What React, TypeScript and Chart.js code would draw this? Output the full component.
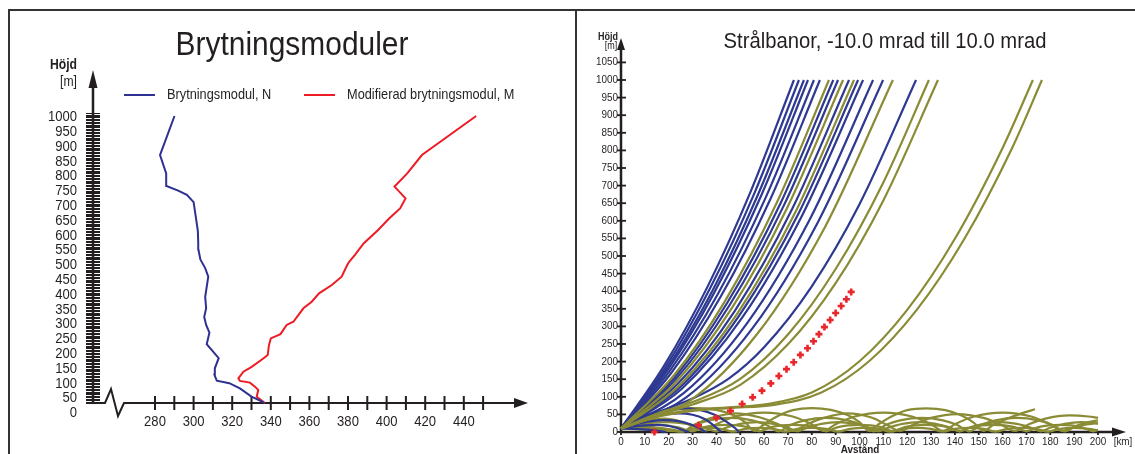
import React, { useEffect, useRef } from "react";
import { Chart, registerables } from "chart.js";
Chart.register(...registerables);

// ---------- Left chart: refractivity profiles ----------
const nHeights = [0, 5, 22, 51, 69, 78, 98, 121, 156, 180, 205, 245, 272, 300, 330, 370, 405, 440, 470, 500, 535, 560, 600, 650, 700, 725, 740, 756, 800, 864, 1000];
const nValues = [336.5, 335.5, 330, 324, 318.5, 312, 310.8, 311, 313, 310, 306.8, 308.2, 306.5, 305.5, 306.5, 306, 306.8, 307.6, 306, 303.5, 302.5, 302.4, 302.2, 301.1, 300, 296.5, 292, 286, 285.8, 282.6, 290.1];
const mHeights = [0, 22, 45, 57, 71, 77, 86, 109, 126, 155, 167, 200, 225, 240, 272, 283, 330, 353, 382, 411, 440, 481, 492, 516, 556, 603, 643, 678, 713, 754, 800, 864, 1000];
const mValues = [337, 332.7, 333.5, 331.8, 329.2, 324, 323.2, 325.8, 330.1, 336.1, 338.4, 339, 340, 345, 348.2, 351.7, 356.9, 361.2, 365, 371.6, 376.7, 379.6, 380.6, 383.6, 388.1, 395.6, 401.3, 407, 409.8, 404.1, 410.7, 418.3, 446.4];
const leftYTickLabels = [0, 50, 100, 150, 200, 250, 300, 350, 400, 450, 500, 550, 600, 650, 700, 750, 800, 850, 900, 950, 1000];
const leftXTickLabels = [280, 300, 320, 340, 360, 380, 400, 420, 440];
const leftXTickMarks = [280, 290, 300, 310, 320, 330, 340, 350, 360, 370, 380, 390, 400, 410, 420, 430, 440, 450];
const legendLabels = ["Brytningsmodul, N", "Modifierad brytningsmodul, M"];

// ---------- Right chart: ray paths (distance km, height m) ----------
const upperBlueRays = [
  [[0, 10], [18.1, 188.5], [36.3, 413], [54.4, 683.5], [72.5, 1000]],
  [[0, 10], [18.7, 184.5], [37.3, 407.6], [56, 679.5], [74.6, 1000]],
  [[0, 10], [19.2, 180.3], [38.4, 402], [57.5, 675.3], [76.7, 1000]],
  [[0, 10], [19.6, 176.8], [39.2, 397.4], [58.8, 671.8], [78.4, 1000]],
  [[0, 10], [20.2, 171.6], [40.5, 390.5], [60.7, 666.6], [80.9, 1000]],
  [[0, 10], [20.9, 166.2], [41.7, 383.3], [62.6, 661.2], [83.4, 1000]],
  [[0, 10], [22.3, 153.5], [44.5, 366.4], [66.8, 648.5], [89, 1000]],
  [[0, 10], [22.8, 148.8], [45.5, 360.1], [68.3, 643.8], [91, 1000]],
  [[0, 10], [23.9, 137.5], [47.8, 345.1], [71.7, 632.5], [95.6, 1000]],
  [[0, 10], [24.9, 127.8], [49.7, 332.1], [74.6, 622.8], [99.4, 1000]],
  [[0, 10], [25.4, 122.3], [50.8, 324.7], [76.1, 617.3], [101.5, 1000]],
  [[0, 10], [26.4, 110.9], [52.9, 309.5], [79.3, 605.9], [105.7, 1000]],
  [[0, 10], [27.5, 99], [55, 293.6], [82.4, 594], [109.9, 1000]],
  [[0, 10], [15, 55], [30, 95], [45, 151], [60, 241], [80, 414], [100, 647], [123.7, 1000]],
];
const upperOliveRays = [
  [[0, 10], [21.8, 157.7], [43.6, 371.9], [65.4, 652.7], [87.2, 1000]],
  [[0, 10], [23.3, 143.7], [46.6, 353.3], [69.8, 638.7], [93.1, 1000]],
  [[0, 10], [24.4, 132.2], [48.9, 338], [73.3, 627.2], [97.7, 1000]],
  [[0, 10], [28.5, 86.9], [57, 277.6], [85.5, 581.9], [114, 1000]],
  [[0, 10], [15, 52], [30, 85], [50, 151], [70, 277], [90, 463], [110, 709], [129.1, 1000]],
  [[0, 10], [15, 48], [30, 78], [50, 134], [70, 249], [90, 423], [110, 658], [132.9, 1000]],
  [[0, 10], [15, 45], [30, 63], [45, 70], [62, 80], [80, 112], [100, 201], [120, 347], [140, 549], [160, 807], [172.7, 1000]],
  [[0, 10], [15, 43], [30, 60], [45, 68], [65, 78], [84, 112], [104, 201], [124, 347], [144, 549], [164, 807], [176.5, 1000]],
];
const groundBlueRays = [
  [[0, 10], [6, 32], [12, 50], [19, 62], [26, 67], [33, 63], [39, 50], [44, 30], [48, 10], [49.5, 0]],
  [[0, 10], [6, 28], [12, 42], [18, 50], [24, 53], [30, 49], [35, 37], [39, 18], [42, 0]],
  [[0, 10], [6, 22], [12, 30], [18, 34], [24, 31], [29, 22], [33, 10], [35.5, 0]],
  [[0, 10], [5, 16], [10, 19], [15, 20], [20, 17], [24, 10], [27, 3], [28.5, 0]],
  [[0, 10], [6, 9], [12, 6], [17, 2], [19, 0]],
];
const trappedOliveRays = [
  [[0, 10], [8, 35], [16, 53], [24, 64], [32, 68], [40, 63], [47, 48], [52, 28], [56, 3], [60, 22], [66, 46], [72, 62], [80, 68], [88, 63], [95, 48], [100, 28], [104, 3], [108, 22], [114, 46], [120, 62], [128, 67], [136, 62], [143, 46], [148, 26], [152, 3], [156, 20], [162, 38], [168, 53], [173.6, 64.5]],
  [[0, 10], [10, 7], [20, 3], [25.5, 2], [31, 22], [38, 40], [48, 53], [58, 42], [66, 22], [72, 3], [78, 22], [85, 40], [95, 53], [105, 41], [111, 22], [117, 3], [123, 22], [130, 40], [141, 51], [152, 40], [159, 22], [165, 3], [171, 22], [178, 38], [188, 47], [196, 44], [200, 40]],
  [[0, 10], [8, 15], [16, 12], [22, 6], [26, 2], [31, 20], [37, 33], [46, 40], [55, 33], [61, 20], [66, 2], [71, 20], [77, 33], [86, 40], [95, 33], [101, 20], [106, 2], [111, 20], [117, 33], [126, 40], [135, 33], [141, 20], [146, 2], [151, 20], [157, 33], [166, 40], [175, 33], [181, 20], [186, 2], [191, 18], [196, 28], [200, 33]],
  [[0, 10], [10, 24], [20, 28], [30, 20], [36, 10], [40, 2], [44, 12], [50, 23], [57, 28], [64, 23], [70, 12], [74, 2], [78, 12], [84, 23], [91, 28], [98, 23], [104, 12], [108, 2], [112, 12], [118, 23], [125, 28], [132, 23], [138, 12], [142, 2], [146, 12], [152, 23], [159, 28], [166, 23], [172, 12], [176, 2], [180, 12], [186, 23], [193, 28], [200, 24]],
  [[0, 10], [8, 18], [16, 20], [24, 13], [30, 2], [35, 14], [44, 20], [53, 14], [58, 2], [63, 14], [72, 20], [81, 14], [86, 2], [91, 14], [100, 20], [109, 14], [114, 2], [119, 14], [128, 20], [137, 14], [142, 2], [147, 14], [156, 20], [165, 14], [170, 2], [175, 14], [184, 20], [193, 14], [198, 2], [200, 6]],
  [[0, 10], [10, 30], [18, 38], [25, 30], [31, 14], [35, 3], [40, 22], [48, 44], [60, 55], [72, 44], [80, 22], [85, 3], [90, 22], [98, 44], [110, 55], [122, 44], [130, 22], [135, 3], [140, 22], [148, 44], [160, 55], [172, 44], [180, 22], [185, 3], [190, 14], [196, 22], [200, 25]],
  [[0, 10], [6, 12], [12, 11], [19, 7], [25, 1], [30, 9], [36, 12], [42, 9], [47, 1], [52, 9], [58, 12], [64, 9], [69, 1], [74, 9], [80, 12], [86, 9], [91, 1], [96, 9], [102, 12], [108, 9], [113, 1], [118, 9], [124, 12], [130, 9], [135, 1], [140, 9], [146, 12], [152, 9], [157, 1], [162, 9], [168, 12], [174, 9], [179, 1], [184, 9], [190, 12], [196, 9], [200, 5]],
];
const markerDist = [14, 32.5, 40, 45.9, 50.8, 55.2, 59.1, 62.8, 66.2, 69.4, 72.4, 75.2, 78.2, 80.7, 83, 85.3, 87.7, 90, 92.3, 94.5, 96.5];
const markerHeight = [0, 19, 40, 60, 79.5, 98.5, 117.5, 138, 159, 178.5, 198, 219, 238, 258, 278, 298, 318, 338, 358, 377, 398];
const rightYTickLabels = [0, 50, 100, 150, 200, 250, 300, 350, 400, 450, 500, 550, 600, 650, 700, 750, 800, 850, 900, 950, 1000, 1050];
const rightXTickLabels = [0, 10, 20, 30, 40, 50, 60, 70, 80, 90, 100, 110, 120, 130, 140, 150, 160, 170, 180, 190, 200];

const SANS = '"Liberation Sans", Arial, "Helvetica", sans-serif';
const INK = "#231f20";
const BLUE_L = "#2e3192";
const RED_L = "#ed1c24";
const BLUE_R = "#2e3a92";
const OLIVE = "#8a8b35";

function line(ctx: CanvasRenderingContext2D, x1: number, y1: number, x2: number, y2: number) {
  ctx.beginPath();
  ctx.moveTo(x1, y1);
  ctx.lineTo(x2, y2);
  ctx.stroke();
}

// condensed text: real text, horizontally compressed like a narrow typeface
function text(ctx: CanvasRenderingContext2D, s: string, x: number, y: number, font: string, align: CanvasTextAlign, sx: number) {
  ctx.save();
  ctx.font = font;
  ctx.textAlign = align;
  ctx.textBaseline = "middle";
  ctx.translate(x, y);
  ctx.scale(sx, 1);
  ctx.fillText(s, 0, 0);
  ctx.restore();
}

const leftDecor = {
  id: "leftDecor",
  beforeDatasetsDraw(chart: any) {
    const ctx: CanvasRenderingContext2D = chart.ctx;
    const xs = chart.scales.x;
    const ys = chart.scales.y;
    const yl = chart.scales.yl;
    const axisX = 93;
    const axisY = ys.getPixelForValue(0);
    ctx.save();
    ctx.strokeStyle = INK;
    ctx.fillStyle = INK;
    ctx.lineWidth = 1;
    for (let v = 0; v <= 1010; v += 5) {
      const y = Math.round(ys.getPixelForValue(v)) + 0.5;
      line(ctx, 86, y, 100, y);
    }
    ctx.lineWidth = 2.5;
    line(ctx, axisX, axisY, axisX, 86);
    ctx.beginPath();
    ctx.moveTo(axisX, 70);
    ctx.lineTo(axisX - 4.5, 88);
    ctx.lineTo(axisX + 4.5, 88);
    ctx.closePath();
    ctx.fill();
    ctx.lineWidth = 2;
    ctx.beginPath();
    ctx.moveTo(86, axisY);
    ctx.lineTo(105, axisY);
    ctx.lineTo(111, axisY - 14);
    ctx.lineTo(118, axisY + 13);
    ctx.lineTo(124, axisY);
    ctx.lineTo(516, axisY);
    ctx.stroke();
    ctx.beginPath();
    ctx.moveTo(528, axisY);
    ctx.lineTo(514, axisY - 5);
    ctx.lineTo(514, axisY + 5);
    ctx.closePath();
    ctx.fill();
    for (const v of leftXTickMarks) {
      const x = xs.getPixelForValue(v);
      line(ctx, x, axisY - 7, x, axisY + 7);
    }
    const f15 = `15px ${SANS}`;
    for (const v of leftXTickLabels) text(ctx, String(v), xs.getPixelForValue(v), axisY + 19, f15, "center", 0.87);
    for (const v of leftYTickLabels) text(ctx, String(v), 77, yl.getPixelForValue(v), f15, "right", 0.87);
    text(ctx, "Höjd", 77, 65, `bold 14px ${SANS}`, "right", 0.87);
    text(ctx, "[m]", 77, 82, `14px ${SANS}`, "right", 0.87);
    text(ctx, "Brytningsmoduler", 292, 46, `34px ${SANS}`, "center", 0.88);
    ctx.lineWidth = 2;
    ctx.strokeStyle = BLUE_L;
    line(ctx, 124, 95, 155, 95);
    ctx.strokeStyle = RED_L;
    line(ctx, 304, 95, 335, 95);
    const f145 = `14.5px ${SANS}`;
    text(ctx, legendLabels[0], 167, 95, f145, "left", 0.88);
    text(ctx, legendLabels[1], 347, 95, f145, "left", 0.88);
    ctx.restore();
  },
};

const rightDecor = {
  id: "rightDecor",
  beforeDatasetsDraw(chart: any) {
    const ctx: CanvasRenderingContext2D = chart.ctx;
    const xs = chart.scales.x;
    const ys = chart.scales.y;
    const ox = xs.getPixelForValue(0);
    const oy = ys.getPixelForValue(0);
    ctx.save();
    ctx.strokeStyle = INK;
    ctx.fillStyle = INK;
    ctx.lineWidth = 2.5;
    line(ctx, ox, oy + 1, ox, 48);
    ctx.beginPath();
    ctx.moveTo(ox, 38);
    ctx.lineTo(ox - 4, 50);
    ctx.lineTo(ox + 4, 50);
    ctx.closePath();
    ctx.fill();
    line(ctx, ox - 1, oy, 537, oy);
    ctx.beginPath();
    ctx.moveTo(549, oy);
    ctx.lineTo(535, oy - 4.5);
    ctx.lineTo(535, oy + 4.5);
    ctx.closePath();
    ctx.fill();
    ctx.lineWidth = 1.8;
    const f11 = `11px ${SANS}`;
    for (const v of rightYTickLabels) {
      const y = ys.getPixelForValue(v);
      line(ctx, ox - 4, y, ox + 5, y);
      text(ctx, String(v), ox - 3, y, f11, "right", 0.9);
    }
    for (const v of rightXTickLabels) {
      const x = xs.getPixelForValue(v);
      line(ctx, x, oy, x, oy + 3);
      text(ctx, String(v), x, oy + 10, f11, "center", 0.9);
    }
    text(ctx, "[km]", 546, oy + 10, f11, "center", 0.9);
    text(ctx, "Avstånd", 283, oy + 18, `bold 11px ${SANS}`, "center", 0.9);
    text(ctx, "Höjd", 31, 37, `bold 10px ${SANS}`, "center", 0.9);
    text(ctx, "[m]", 34, 46, `10px ${SANS}`, "center", 0.9);
    text(ctx, "Strålbanor, -10.0 mrad till 10.0 mrad", 308, 42, `22px ${SANS}`, "center", 0.92);
    ctx.restore();
  },
};

const toPts = (ray: number[][]) => ray.map(([x, y]) => ({ x, y }));

export default function App() {
  const leftRef = useRef<HTMLCanvasElement>(null);
  const rightRef = useRef<HTMLCanvasElement>(null);

  useEffect(() => {
    const left = new Chart(leftRef.current as HTMLCanvasElement, {
      type: "scatter",
      data: {
        datasets: [
          {
            label: legendLabels[0],
            data: nHeights.map((h, i) => ({ x: nValues[i], y: h })),
            showLine: true,
            borderColor: BLUE_L,
            borderWidth: 2,
            pointRadius: 0,
            tension: 0,
          },
          {
            label: legendLabels[1],
            data: mHeights.map((h, i) => ({ x: mValues[i], y: h })),
            showLine: true,
            borderColor: RED_L,
            borderWidth: 2,
            pointRadius: 0,
            tension: 0,
          },
        ],
      },
      options: {
        animation: false,
        responsive: false,
        layout: { padding: { left: 95, right: 40, top: 20, bottom: 14 } },
        plugins: { legend: { display: false }, title: { display: false }, tooltip: { enabled: false } },
        scales: {
          x: { type: "linear", min: 248.912, max: 476.891, display: false },
          y: { type: "linear", min: -128.92, max: 1334.49, display: false },
          yl: { type: "linear", axis: "y", min: -91.22, max: 1327.7, display: false },
        },
      } as any,
      plugins: [leftDecor],
    });

    const rayDs = (ray: number[][], color: string) => ({
      data: toPts(ray),
      showLine: true,
      borderColor: color,
      borderWidth: 2.2,
      pointRadius: 0,
      cubicInterpolationMode: "monotone",
    });
    const datasets: any[] = [
      {
        data: markerDist.map((d, i) => ({ x: d, y: markerHeight[i] })),
        showLine: false,
        pointStyle: "cross",
        pointRadius: 3.5,
        borderColor: "#e8262c",
        backgroundColor: "#e8262c",
        borderWidth: 2.6,
      },
      ...upperOliveRays.map((r) => rayDs(r, OLIVE)),
      ...upperBlueRays.map((r) => rayDs(r, BLUE_R)),
      ...groundBlueRays.map((r) => rayDs(r, BLUE_R)),
      ...trappedOliveRays.map((r) => rayDs(r, OLIVE)),
    ];
    const right = new Chart(rightRef.current as HTMLCanvasElement, {
      type: "scatter",
      data: { datasets },
      options: {
        animation: false,
        responsive: false,
        layout: { padding: { left: 20, right: 13, top: 20, bottom: 10 } },
        plugins: { legend: { display: false }, title: { display: false }, tooltip: { enabled: false } },
        scales: {
          x: { type: "linear", min: -10.063, max: 210.063, display: false },
          y: { type: "linear", min: -34.09, max: 1170.45, display: false },
        },
      } as any,
      plugins: [rightDecor],
    });
    return () => {
      left.destroy();
      right.destroy();
    };
  }, []);

  return (
    <div style={{ position: "fixed", left: 0, top: 0, width: 1135, height: 454, background: "#fff", overflow: "hidden" }}>
      <canvas ref={leftRef} width={575} height={454} style={{ position: "absolute", left: 0, top: 0, width: 575, height: 454 }} />
      <canvas ref={rightRef} width={558} height={454} style={{ position: "absolute", left: 577, top: 0, width: 558, height: 454 }} />
      <div style={{ position: "absolute", left: 8, top: 9, width: 1127, height: 2, background: "#333" }} />
      <div style={{ position: "absolute", left: 8, top: 9, width: 2, height: 445, background: "#333" }} />
      <div style={{ position: "absolute", left: 575, top: 9, width: 2, height: 445, background: "#333" }} />
    </div>
  );
}
